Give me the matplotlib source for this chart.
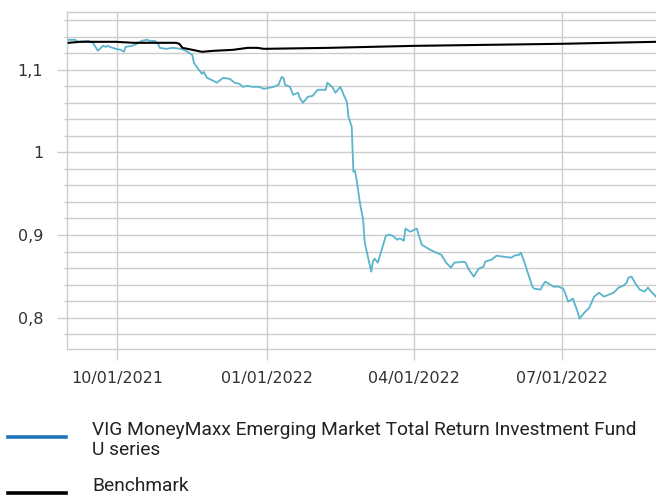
import matplotlib
matplotlib.use("Agg")
import matplotlib.pyplot as plt
import matplotlib.dates as mdates
from matplotlib.lines import Line2D
import numpy as np
import pandas as pd

#%% data

fund_dates = ['2021-09-01', '2021-09-05', '2021-09-07', '2021-09-13', '2021-09-16', '2021-09-19',
              '2021-09-22', '2021-09-24', '2021-09-25', '2021-09-28', '2021-09-30', '2021-10-03',
              '2021-10-05', '2021-10-06', '2021-10-10', '2021-10-13', '2021-10-16', '2021-10-19',
              '2021-10-21', '2021-10-24', '2021-10-26', '2021-10-27', '2021-10-31', '2021-11-04',
              '2021-11-09', '2021-11-12', '2021-11-16', '2021-11-17', '2021-11-20', '2021-11-22',
              '2021-11-23', '2021-11-25', '2021-11-29', '2021-12-01', '2021-12-05', '2021-12-09',
              '2021-12-12', '2021-12-15', '2021-12-17', '2021-12-20', '2021-12-23', '2021-12-27',
              '2021-12-30', '2022-01-02', '2022-01-05', '2022-01-08', '2022-01-10', '2022-01-11',
              '2022-01-12', '2022-01-15', '2022-01-17', '2022-01-20', '2022-01-21', '2022-01-23',
              '2022-01-26', '2022-01-29', '2022-02-01', '2022-02-06', '2022-02-07', '2022-02-10',
              '2022-02-12', '2022-02-15', '2022-02-17', '2022-02-19', '2022-02-20', '2022-02-22',
              '2022-02-23', '2022-02-24', '2022-02-25', '2022-02-27', '2022-03-01', '2022-03-02',
              '2022-03-06', '2022-03-07', '2022-03-08', '2022-03-10', '2022-03-15', '2022-03-17',
              '2022-03-19', '2022-03-22', '2022-03-23', '2022-03-24', '2022-03-26', '2022-03-27',
              '2022-03-30', '2022-04-03', '2022-04-06', '2022-04-11', '2022-04-15', '2022-04-18',
              '2022-04-21', '2022-04-24', '2022-04-26', '2022-05-02', '2022-05-03', '2022-05-05',
              '2022-05-08', '2022-05-11', '2022-05-14', '2022-05-15', '2022-05-19', '2022-05-22',
              '2022-05-26', '2022-05-31', '2022-06-02', '2022-06-05', '2022-06-06', '2022-06-08',
              '2022-06-11', '2022-06-13', '2022-06-14', '2022-06-18', '2022-06-20', '2022-06-21',
              '2022-06-23', '2022-06-26', '2022-06-29', '2022-07-02', '2022-07-04', '2022-07-05',
              '2022-07-08', '2022-07-09', '2022-07-11', '2022-07-12', '2022-07-15', '2022-07-18',
              '2022-07-21', '2022-07-24', '2022-07-27', '2022-07-30', '2022-08-02', '2022-08-05',
              '2022-08-08', '2022-08-10', '2022-08-11', '2022-08-13', '2022-08-15', '2022-08-18',
              '2022-08-21', '2022-08-23', '2022-08-25', '2022-08-28']
fund_values = [1.1363, 1.1363, 1.1339, 1.1351, 1.1327, 1.1230,
               1.1290, 1.1278, 1.1290, 1.1266, 1.1254, 1.1242,
               1.1218, 1.1278, 1.1290, 1.1315, 1.1351, 1.1363,
               1.1351, 1.1351, 1.1315, 1.1266, 1.1254, 1.1266,
               1.1254, 1.1230, 1.1181, 1.1085, 1.1000, 1.0952,
               1.0976, 1.0903, 1.0867, 1.0843, 1.0903, 1.0891,
               1.0843, 1.0831, 1.0794, 1.0806, 1.0794, 1.0794,
               1.0770, 1.0782, 1.0794, 1.0819, 1.0915, 1.0903,
               1.0819, 1.0794, 1.0698, 1.0722, 1.0661, 1.0601,
               1.0673, 1.0685, 1.0758, 1.0758, 1.0843, 1.0794,
               1.0722, 1.0794, 1.0698, 1.0613, 1.0431, 1.0310,
               0.9766, 0.9778, 0.9669, 0.9391, 0.9185, 0.8907,
               0.8556, 0.8677, 0.8714, 0.8665, 0.8992, 0.9004,
               0.8992, 0.8943, 0.8956, 0.8956, 0.8931, 0.9077,
               0.9040, 0.9077, 0.8883, 0.8823, 0.8786, 0.8762,
               0.8665, 0.8605, 0.8665, 0.8677, 0.8665, 0.8581,
               0.8496, 0.8593, 0.8617, 0.8677, 0.8702, 0.8750,
               0.8738, 0.8726, 0.8750, 0.8762, 0.8786, 0.8677,
               0.8496, 0.8375, 0.8351, 0.8339, 0.8411, 0.8435,
               0.8411, 0.8375, 0.8375, 0.8351, 0.8254, 0.8193,
               0.8230, 0.8169, 0.8060, 0.7988, 0.8060, 0.8121,
               0.8254, 0.8302, 0.8254, 0.8278, 0.8302, 0.8363,
               0.8387, 0.8423, 0.8484, 0.8496, 0.8423, 0.8339,
               0.8315, 0.8363, 0.8315, 0.8254]

bench_dates = ['2021-09-01', '2021-09-08', '2021-09-20', '2021-09-30', '2021-10-11', '2021-10-19',
               '2021-11-06', '2021-11-08', '2021-11-10', '2021-11-13', '2021-11-22', '2021-11-29',
               '2021-12-11', '2021-12-20', '2021-12-26', '2021-12-30', '2022-02-08', '2022-04-01',
               '2022-07-01', '2022-08-28']
bench_values = [1.1327, 1.1339, 1.1339, 1.1339, 1.1327, 1.1327,
                1.1327, 1.1315, 1.1266, 1.1254, 1.1218, 1.1230,
                1.1242, 1.1266, 1.1266, 1.1254, 1.1266, 1.1290,
                1.1315, 1.1339]

x_ticks = ['2021-10-01', '2022-01-01', '2022-04-01', '2022-07-01']
y_ticks = [0.8, 0.9, 1.0, 1.1]
y_tick_labels = ['0,8', '0,9', '1', '1,1']

fund_label = 'VIG MoneyMaxx Emerging Market Total Return Investment Fund\nU series'
bench_label = 'Benchmark'

#%% plot

grid_col = '#cccccc'
text_col = '#333333'

fig = plt.figure(figsize=(6.56, 4.98), dpi=100)
ax = fig.add_axes([67/656, 1 - 349/498, 1 - 67/656, (349 - 12)/498])

ax.plot(pd.to_datetime(fund_dates), fund_values, color='#5ab4cb', lw=1.3, zorder=3)
ax.plot(pd.to_datetime(bench_dates), bench_values, color='black', lw=1.5, zorder=4)

ax.set_xlim(pd.Timestamp('2021-08-31'), pd.Timestamp('2022-08-28'))
ax.set_ylim(0.762, 1.17)

ax.set_xticks(pd.to_datetime(x_ticks))
ax.xaxis.set_major_formatter(mdates.DateFormatter('%m/%d/%Y'))
ax.set_yticks(y_ticks)
ax.set_yticklabels(y_tick_labels)
ax.set_yticks(np.arange(0.78, 1.17, 0.02), minor=True)

ax.grid(True, which='both', axis='y', color=grid_col, lw=1.0)
ax.grid(True, which='major', axis='x', color=grid_col, lw=1.0)
ax.set_axisbelow(True)

for side in ['left', 'bottom', 'top']:
    ax.spines[side].set_color(grid_col)
    ax.spines[side].set_linewidth(1.0)
ax.spines['right'].set_visible(False)

ax.tick_params(axis='y', which='major', length=7.2, width=1.0, color=grid_col,
               pad=10, labelsize=11.5, labelcolor=text_col)
ax.tick_params(axis='y', which='minor', length=2.5, width=1.0, color=grid_col)
ax.tick_params(axis='x', which='major', length=8, width=1.0, color=grid_col,
               pad=8, labelsize=11.5, labelcolor=text_col)

# legend below the plot
fig.add_artist(Line2D([8/656, 66/656], [1 - 437/498, 1 - 437/498], color='#1f74bc', lw=2.6))
fig.add_artist(Line2D([8/656, 66/656], [1 - 493/498, 1 - 493/498], color='black', lw=2.6))
fig.text(92/656, 1 - 440/498, fund_label, family=['Roboto', 'DejaVu Sans'], fontsize=13.8,
         color='#222222', va='center', ha='left', linespacing=1.15)
fig.text(92/656, 1 - 486/498, bench_label, family=['Roboto', 'DejaVu Sans'], fontsize=13.8,
         color='#222222', va='center', ha='left')

plt.savefig('out.png', dpi=100)
